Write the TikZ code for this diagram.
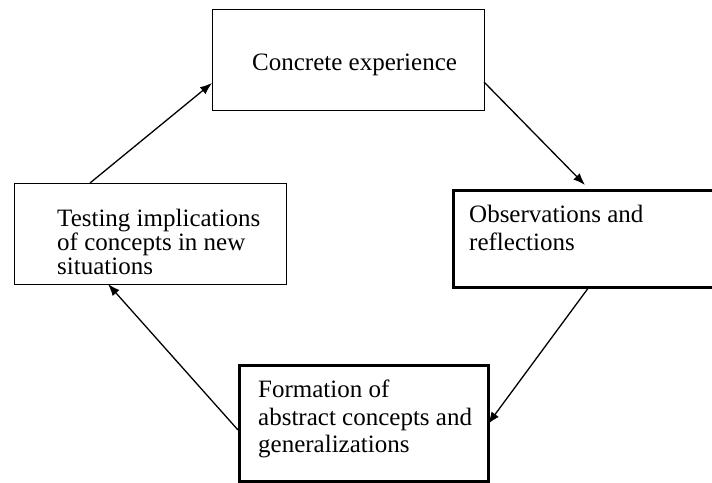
\documentclass[tikz,border=0pt]{standalone}
\usepackage{fontspec}
\setmainfont{Liberation Serif}
\usetikzlibrary{arrows.meta}
\begin{document}
\begin{tikzpicture}[x=1pt,y=1pt,
  thinbox/.style={draw=black, line width=1.2pt, fill=white, inner sep=0pt, anchor=north west},
  thickbox/.style={draw=black, line width=3pt, fill=white, inner sep=0pt, anchor=north west},
  lbl/.style={anchor=base west, inner sep=0pt, font=\fontsize{25}{28}\selectfont},
  conn/.style={line width=1.3pt, -{Latex[length=12pt,width=9pt]}}
]
\useasboundingbox (0,0) rectangle (712,-482);
% boxes
\node[thinbox, minimum width=272pt, minimum height=101pt] (top) at (212,-9) {};
\node[thickbox, minimum width=262pt, minimum height=97pt] (right) at (452,-189) {};
\node[thickbox, minimum width=249pt, minimum height=116pt] (bottom) at (238,-364) {};
\node[thinbox, minimum width=272pt, minimum height=101pt] (left) at (14,-183) {};
% texts
\node[lbl] (t1) at (252,-70) {Concrete experience};
\node[lbl] (r1) at (469,-222) {Observations and};
\node[lbl] (r2) at (469,-250) {reflections};
\node[lbl] (b1) at (258,-397) {Formation of};
\node[lbl] (b2) at (258,-425) {abstract concepts and};
\node[lbl] (b3) at (258,-452) {generalizations};
\node[lbl] (l1) at (57,-226) {Testing implications};
\node[lbl] (l2) at (57,-250) {of concepts in new};
\node[lbl] (l3) at (57,-274) {situations};
% connector end points
\coordinate (a1s) at (90,-183);
\coordinate (a1e) at (212,-83);
\coordinate (a2s) at (484,-82);
\coordinate (a2e) at (585,-185);
\coordinate (a3s) at (589,-287);
\coordinate (a3e) at (488,-424);
\coordinate (a4s) at (238,-430);
\coordinate (a4e) at (108,-284);
\draw[conn] (a1s) -- (a1e);
\draw[conn] (a2s) -- (a2e);
\draw[conn] (a3s) -- (a3e);
\draw[conn] (a4s) -- (a4e);
\end{tikzpicture}
\end{document}
